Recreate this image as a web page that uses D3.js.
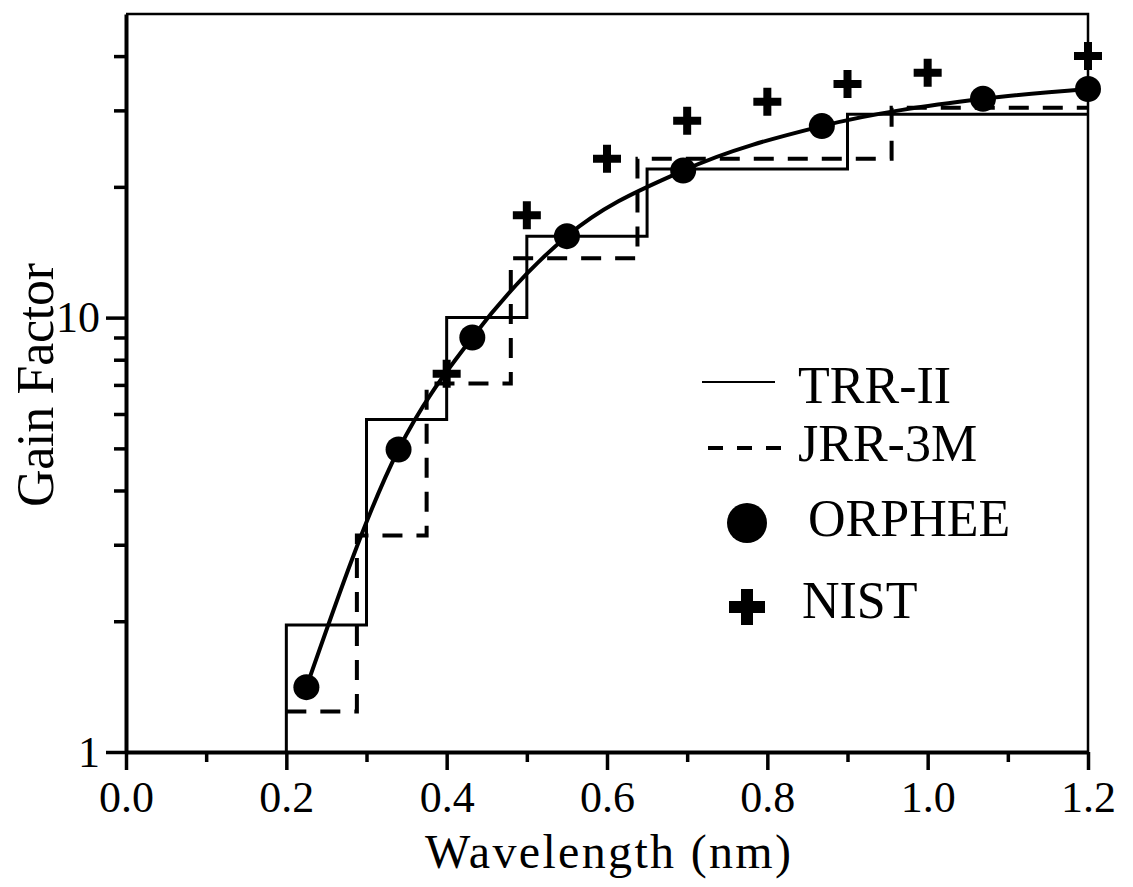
<!DOCTYPE html>
<html>
<head>
<meta charset="utf-8">
<script src="https://cdn.jsdelivr.net/npm/d3@7"></script>
<style>
  body { margin: 0; background: #fff; }
</style>
</head>
<body>
<div id="chart"></div>
<script>
// step edges (nm) and gain for each bin
const trrEdges = [0.2, 0.3, 0.4, 0.5, 0.65, 0.9, 1.2];
const trrGain = [1.96, 5.83, 10.0, 15.4, 22.0, 29.4];
const jrrEdges = [0.2, 0.288, 0.375, 0.48, 0.638, 0.955, 1.2];
const jrrGain = [1.24, 3.15, 7.05, 13.7, 23.2, 30.4];

// measured points
const orpheeWave = [0.225, 0.34, 0.432, 0.55, 0.695, 0.868, 1.069, 1.2];
const orpheeGain = [1.41, 4.97, 9.0, 15.4, 21.8, 27.6, 31.9, 33.6];
const nistWave = [0.4, 0.5, 0.6, 0.7, 0.8, 0.9, 1.0, 1.2];
const nistGain = [7.43, 17.2, 23.2, 28.4, 31.4, 34.5, 36.6, 40.0];

// axis ticks
const xMajorTicks = [0, 0.2, 0.4, 0.6, 0.8, 1.0, 1.2];
const xMinorTicks = [0.1, 0.3, 0.5, 0.7, 0.9, 1.1];
const yMajorTicks = [1, 10];
const yMinorTicks = [2, 3, 4, 5, 6, 7, 8, 9, 20, 30, 40];

const legendItems = ['TRR-II', 'JRR-3M', 'ORPHEE', 'NIST'];

const width = 1133;
const height = 887;
const font = "'Liberation Serif', 'Times New Roman', Times, serif";

const x = d3.scaleLinear().domain([0, 1.2]).range([126, 1088]);
const y = d3.scaleLog().domain([1, 50]).range([752, 14]);

const svg = d3.select('#chart').append('svg')
    .attr('width', width)
    .attr('height', height)
    .attr('font-family', font);

// steps as points for a step-after line
const stepPoints = (edges, gains, startAtOne) => {
    const pts = edges.slice(0, -1).map((e, i) => [e, gains[i]]);
    pts.push([edges[edges.length - 1], gains[gains.length - 1]]);
    if (startAtOne) pts.unshift([edges[0], 1]);
    return pts;
};

const stepLine = d3.line()
    .x(d => x(d[0]))
    .y(d => y(d[1]))
    .curve(d3.curveStepAfter);

// frame: top and right
svg.append('path')
    .attr('d', `M${x(0)},${y(50)}H${x(1.2)}V${y(1)}`)
    .attr('fill', 'none')
    .attr('stroke', '#000')
    .attr('stroke-width', 2.5);

// TRR-II steps
svg.append('path')
    .attr('d', stepLine(stepPoints(trrEdges, trrGain, true)))
    .attr('fill', 'none')
    .attr('stroke', '#000')
    .attr('stroke-width', 3);

// JRR-3M steps
svg.append('path')
    .attr('d', stepLine(stepPoints(jrrEdges, jrrGain, false)))
    .attr('fill', 'none')
    .attr('stroke', '#000')
    .attr('stroke-width', 4)
    .attr('stroke-dasharray', '20,14');

// ORPHEE curve and dots
const orphee = orpheeWave.map((w, i) => [w, orpheeGain[i]]);
svg.append('path')
    .attr('d', d3.line()
        .x(d => x(d[0]))
        .y(d => y(d[1]))
        .curve(d3.curveMonotoneX)(orphee))
    .attr('fill', 'none')
    .attr('stroke', '#000')
    .attr('stroke-width', 4);

svg.selectAll('circle.orphee')
        .data(orphee)
    .enter().append('circle')
        .attr('class', 'orphee')
        .attr('cx', d => x(d[0]))
        .attr('cy', d => y(d[1]))
        .attr('r', 13)
        .attr('fill', '#000');

// NIST crosses
const plus = (cx, cy, half) =>
    `M${cx - half},${cy}H${cx + half}M${cx},${cy - half}V${cy + half}`;

const nist = nistWave.map((w, i) => [w, nistGain[i]]);
svg.selectAll('path.nist')
        .data(nist)
    .enter().append('path')
        .attr('class', 'nist')
        .attr('d', d => plus(x(d[0]), y(d[1]), 14))
        .attr('stroke', '#000')
        .attr('stroke-width', 8);

// x axis
const xAxis = svg.append('g')
    .attr('transform', `translate(0,${y(1)})`)
    .call(d3.axisBottom(x)
        .tickValues(xMajorTicks)
        .tickFormat(d3.format('.1f'))
        .tickSize(18)
        .tickSizeOuter(0)
        .tickPadding(11));
xAxis.append('g')
    .call(d3.axisBottom(x)
        .tickValues(xMinorTicks)
        .tickFormat('')
        .tickSize(10)
        .tickSizeOuter(0))
    .select('.domain').remove();

// y axis
const yAxis = svg.append('g')
    .attr('transform', `translate(${x(0)},0)`)
    .call(d3.axisLeft(y)
        .tickValues(yMajorTicks)
        .tickFormat(d3.format('d'))
        .tickSize(20)
        .tickSizeOuter(0)
        .tickPadding(6));
yAxis.append('g')
    .call(d3.axisLeft(y)
        .tickValues(yMinorTicks)
        .tickFormat('')
        .tickSize(12)
        .tickSizeOuter(0))
    .select('.domain').remove();

svg.selectAll('g').attr('font-family', font);
svg.selectAll('.domain').attr('stroke-width', 4);
svg.selectAll('.tick line').attr('stroke-width', 3.5);
svg.selectAll('.tick text')
    .attr('font-family', font)
    .attr('font-size', 44);

// axis titles
svg.append('text')
    .attr('x', 608)
    .attr('y', 868)
    .attr('text-anchor', 'middle')
    .attr('textLength', 366)
    .attr('font-family', font)
    .attr('font-size', 48)
    .text('Wavelength (nm)');

svg.append('text')
    .attr('transform', 'translate(53,385) rotate(-90)')
    .attr('text-anchor', 'middle')
    .attr('textLength', 244)
    .attr('font-family', font)
    .attr('font-size', 52)
    .text('Gain Factor');

// legend
const legend = svg.append('g');
legend.append('line')
    .attr('x1', 702).attr('x2', 775)
    .attr('y1', 382).attr('y2', 382)
    .attr('stroke', '#000')
    .attr('stroke-width', 2);
legend.append('line')
    .attr('x1', 708).attr('x2', 782)
    .attr('y1', 448).attr('y2', 448)
    .attr('stroke', '#000')
    .attr('stroke-width', 4)
    .attr('stroke-dasharray', '15,14');
legend.append('circle')
    .attr('cx', 747).attr('cy', 523)
    .attr('r', 20)
    .attr('fill', '#000');
legend.append('path')
    .attr('d', plus(747, 607, 18))
    .attr('stroke', '#000')
    .attr('stroke-width', 12);

const legendPos = [[798, 403], [798, 461], [808, 536], [802, 618]];
legend.selectAll('text')
        .data(legendItems)
    .enter().append('text')
        .attr('x', (d, i) => legendPos[i][0])
        .attr('y', (d, i) => legendPos[i][1])
        .attr('font-family', font)
        .attr('font-size', 52)
        .text(d => d);
</script>
</body>
</html>
